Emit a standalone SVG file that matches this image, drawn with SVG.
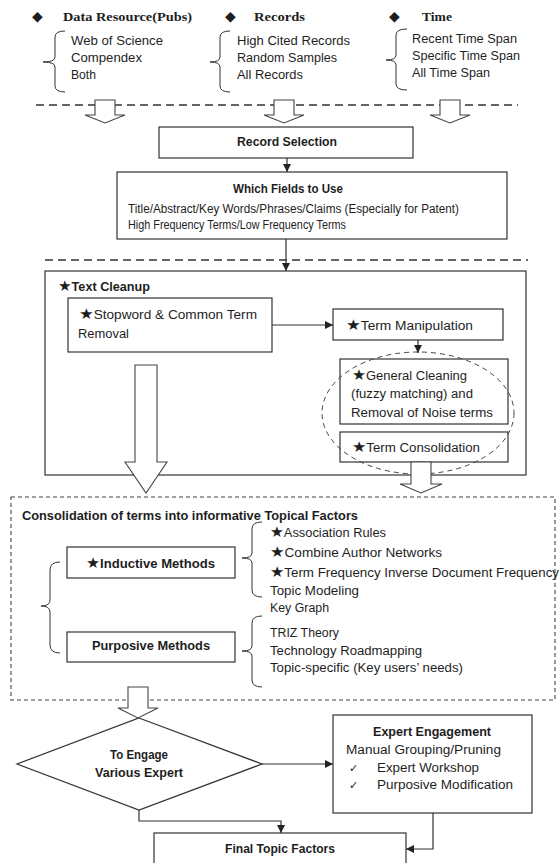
<svg xmlns="http://www.w3.org/2000/svg" width="559" height="863" viewBox="0 0 559 863">
<defs>
<style>
text{font-family:"Liberation Sans","DejaVu Sans",sans-serif;font-size:12.5px;fill:#1e1e1e}
.b{font-weight:bold}
.h{font-family:"Liberation Serif","DejaVu Serif",serif;font-weight:bold;font-size:13px}
.sym{font-family:"DejaVu Sans",sans-serif;font-size:11px}
.dia{font-family:"DejaVu Sans",sans-serif;font-size:14px}
.st{font-family:"DejaVu Sans",sans-serif;font-size:15px;font-weight:normal}
.box{fill:#fff;stroke:#333;stroke-width:1.2}
.brace{fill:none;stroke:#333;stroke-width:1}
.line{fill:none;stroke:#333;stroke-width:1.2}
.hollow{fill:#fff;stroke:#444;stroke-width:1.1}
.dash1{stroke:#333;stroke-width:1.5;stroke-dasharray:8,5;fill:none}
.dash2{stroke:#444;stroke-width:1.1;stroke-dasharray:4,3;fill:none}
.ell{stroke:#444;stroke-width:1;stroke-dasharray:5,4;fill:none}
</style>
<marker id="ah" viewBox="0 0 8 8" refX="8" refY="4" markerWidth="8" markerHeight="8" markerUnits="userSpaceOnUse" orient="auto"><path d="M0,0 L8,4 L0,8 z" fill="#222"/></marker>
</defs>
<rect width="559" height="863" fill="#fff"/>

<g id="data-resource">
<text class="dia" x="32" y="21">◆</text>
<text class="h" x="63" y="21" textLength="129" lengthAdjust="spacingAndGlyphs">Data Resource(Pubs)</text>
<path class="brace" d="M65,31 Q55,31 55,37 L55,57 Q55,62 43,62 Q55,62 55,67 L55,86 Q55,92 65,92"/>
<text x="71" y="45" textLength="92" lengthAdjust="spacingAndGlyphs">Web of Science</text>
<text x="71" y="62" textLength="71" lengthAdjust="spacingAndGlyphs">Compendex</text>
<text x="71" y="79" textLength="25" lengthAdjust="spacingAndGlyphs">Both</text>
</g>

<g id="records">
<text class="dia" x="225" y="21">◆</text>
<text class="h" x="254" y="21" textLength="51" lengthAdjust="spacingAndGlyphs">Records</text>
<path class="brace" d="M230,31 Q220,31 220,37 L220,57 Q220,62 210,62 Q220,62 220,67 L220,86 Q220,92 230,92"/>
<text x="237" y="45" textLength="113" lengthAdjust="spacingAndGlyphs">High Cited Records</text>
<text x="237" y="62" textLength="100" lengthAdjust="spacingAndGlyphs">Random Samples</text>
<text x="237" y="79" textLength="66" lengthAdjust="spacingAndGlyphs">All Records</text>
</g>

<g id="time">
<text class="dia" x="389" y="21">◆</text>
<text class="h" x="422" y="21" textLength="30" lengthAdjust="spacingAndGlyphs">Time</text>
<path class="brace" d="M407,29 Q396,29 396,35 L396,55 Q396,60 386,60 Q396,60 396,65 L396,84 Q396,90 407,90"/>
<text x="412" y="43" textLength="105" lengthAdjust="spacingAndGlyphs">Recent Time Span</text>
<text x="412" y="60" textLength="108" lengthAdjust="spacingAndGlyphs">Specific Time Span</text>
<text x="412" y="77" textLength="78" lengthAdjust="spacingAndGlyphs">All Time Span</text>
</g>

<g id="separators">
<line class="dash1" x1="36" y1="105" x2="518" y2="105"/>
<line class="dash1" x1="45" y1="260" x2="528" y2="260"/>
</g>

<g id="record-selection">
<rect class="box" x="159" y="127" width="254" height="31"/>
<text class="b" x="237" y="146" textLength="100" lengthAdjust="spacingAndGlyphs">Record Selection</text>
</g>

<g id="which-fields">
<rect class="box" x="117" y="172" width="390" height="67"/>
<text class="b" x="233" y="193" textLength="110" lengthAdjust="spacingAndGlyphs">Which Fields to Use</text>
<text x="128" y="213" textLength="331" lengthAdjust="spacingAndGlyphs">Title/Abstract/Key Words/Phrases/Claims (Especially for Patent)</text>
<text x="128" y="229" textLength="218" lengthAdjust="spacingAndGlyphs">High Frequency Terms/Low Frequency Terms</text>
</g>

<g id="text-cleanup">
<rect class="box" x="45" y="271" width="481" height="204"/>
<text class="b" x="58" y="291" textLength="92" lengthAdjust="spacingAndGlyphs"><tspan class="st">★</tspan>Text Cleanup</text>
</g>

<g id="stopword">
<rect class="box" x="68" y="298" width="204" height="54"/>
<text x="79" y="319" textLength="178" lengthAdjust="spacingAndGlyphs"><tspan class="st">★</tspan>Stopword &amp; Common Term</text>
<text x="78" y="338" textLength="51" lengthAdjust="spacingAndGlyphs">Removal</text>
</g>

<g id="term-manipulation">
<rect class="box" x="333" y="309" width="170" height="31"/>
<text x="346" y="330" textLength="127" lengthAdjust="spacingAndGlyphs"><tspan class="st">★</tspan>Term Manipulation</text>
</g>

<g id="general-cleaning">
<rect class="box" x="340" y="359" width="168" height="65"/>
<text x="352" y="380" textLength="115" lengthAdjust="spacingAndGlyphs"><tspan class="st">★</tspan>General Cleaning</text>
<text x="351" y="398" textLength="122" lengthAdjust="spacingAndGlyphs">(fuzzy matching) and</text>
<text x="351" y="417" textLength="142" lengthAdjust="spacingAndGlyphs">Removal of Noise terms</text>
</g>

<g id="term-consolidation">
<rect class="box" x="340" y="432" width="168" height="30"/>
<text x="352" y="452" textLength="128" lengthAdjust="spacingAndGlyphs"><tspan class="st">★</tspan>Term Consolidation</text>
</g>

<g id="cleaning-group">
<ellipse class="ell" cx="418" cy="413" rx="96" ry="61"/>
</g>

<g id="consolidation">
<rect class="dash2" x="11" y="497" width="544" height="203"/>
<text class="b" x="22" y="520" textLength="336" lengthAdjust="spacingAndGlyphs">Consolidation of terms into informative Topical Factors</text>
<path class="brace" d="M60,562 Q50,562 50,570 L50,600 Q50,606 41,606 Q50,606 50,612 L50,645 Q50,653 60,653"/>
</g>

<g id="inductive-methods">
<rect class="box" x="67" y="547" width="168" height="31"/>
<text class="b" x="86" y="568" textLength="129" lengthAdjust="spacingAndGlyphs"><tspan class="st">★</tspan>Inductive Methods</text>
<path class="brace" d="M262,522 Q252,522 252,529 L252,553 Q252,558 242,558 Q252,558 252,563 L252,590 Q252,597 262,597"/>
<text x="270" y="537" textLength="116" lengthAdjust="spacingAndGlyphs"><tspan class="st">★</tspan>Association Rules</text>
<text x="270" y="557" textLength="172" lengthAdjust="spacingAndGlyphs"><tspan class="st">★</tspan>Combine Author Networks</text>
<text x="270" y="577" textLength="289" lengthAdjust="spacingAndGlyphs"><tspan class="st">★</tspan>Term Frequency Inverse Document Frequency</text>
<text x="270" y="595" textLength="89" lengthAdjust="spacingAndGlyphs">Topic Modeling</text>
<text x="270" y="612" textLength="59" lengthAdjust="spacingAndGlyphs">Key Graph</text>
</g>

<g id="purposive-methods">
<rect class="box" x="67" y="632" width="168" height="30"/>
<text class="b" x="92" y="650" textLength="118" lengthAdjust="spacingAndGlyphs">Purposive Methods</text>
<path class="brace" d="M262,616 Q252,616 252,623 L252,646 Q252,651 242,651 Q252,651 252,656 L252,680 Q252,687 262,687"/>
<text x="270" y="637" textLength="69" lengthAdjust="spacingAndGlyphs">TRIZ Theory</text>
<text x="270" y="655" textLength="152" lengthAdjust="spacingAndGlyphs">Technology Roadmapping</text>
<text x="270" y="672" textLength="193" lengthAdjust="spacingAndGlyphs">Topic-specific (Key users’ needs)</text>
</g>

<g id="engage-decision">
<polygon class="box" points="139,718 262,764 139,810 17,764"/>
<text class="b" x="110" y="759" textLength="58" lengthAdjust="spacingAndGlyphs">To Engage</text>
<text class="b" x="95" y="777" textLength="88" lengthAdjust="spacingAndGlyphs">Various Expert</text>
</g>

<g id="expert-engagement">
<rect class="box" x="333" y="715" width="199" height="98"/>
<text class="b" x="373" y="736" textLength="118" lengthAdjust="spacingAndGlyphs">Expert Engagement</text>
<text x="346" y="754" textLength="155" lengthAdjust="spacingAndGlyphs">Manual Grouping/Pruning</text>
<text class="sym" x="349" y="772">✓</text>
<text x="377" y="772" textLength="102" lengthAdjust="spacingAndGlyphs">Expert Workshop</text>
<text class="sym" x="349" y="789">✓</text>
<text x="377" y="789" textLength="136" lengthAdjust="spacingAndGlyphs">Purposive Modification</text>
</g>

<g id="final-topic-factors">
<rect class="box" x="154" y="833" width="252" height="40"/>
<text class="b" x="225" y="853" textLength="110" lengthAdjust="spacingAndGlyphs">Final Topic Factors</text>
</g>

<g id="connectors">
<polygon class="hollow" points="95,100 115,100 115,115 125,115 105,123 85,115 95,115"/>
<polygon class="hollow" points="274,100 294,100 294,115 304,115 284,123 264,115 274,115"/>
<polygon class="hollow" points="440,100 460,100 460,115 470,115 450,123 430,115 440,115"/>
<line class="line" x1="287" y1="158" x2="287" y2="172" marker-end="url(#ah)"/>
<line class="line" x1="286" y1="239" x2="286" y2="271" marker-end="url(#ah)"/>
<line class="line" x1="272" y1="325" x2="333" y2="325" marker-end="url(#ah)"/>
<line class="line" x1="418" y1="340" x2="418" y2="353" marker-end="url(#ah)"/>
<polygon class="hollow" points="135,365 157,365 157,462 167,462 146,493 125,462 135,462"/>
<polygon class="hollow" points="411,462 431,462 431,484 442,484 421,493 400,484 411,484"/>
<polygon class="hollow" points="128,687 148,687 148,708 158,708 138,718 118,708 128,708"/>
<line class="line" x1="262" y1="764" x2="333" y2="764" marker-end="url(#ah)"/>
<polyline class="line" points="139,810 139,821 281,821 281,833" marker-end="url(#ah)"/>
<polyline class="line" points="433,813 433,849 406,849" marker-end="url(#ah)"/>
</g>
</svg>
